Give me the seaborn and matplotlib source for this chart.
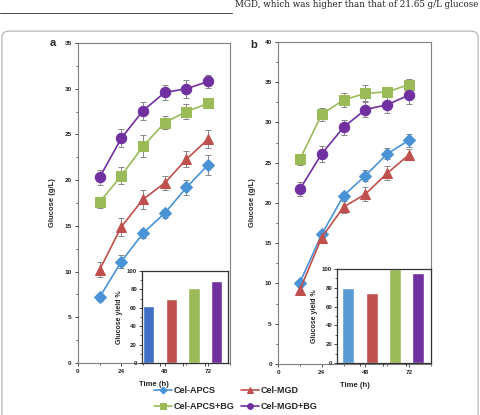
import numpy as np
import pandas as pd
import matplotlib
matplotlib.use("Agg")
import matplotlib.pyplot as plt
import seaborn as sns
from matplotlib.patches import FancyBboxPatch
from matplotlib.lines import Line2D

# thời gian lấy mẫu (h)
time_h = [12, 24, 36, 48, 60, 72]
series = ["Cel-APCS", "Cel-MGD", "Cel-APCS+BG", "Cel-MGD+BG"]

# panel a: glucose (g/L)
a_apcs = [7.2, 11.1, 14.2, 16.4, 19.2, 21.7]
a_mgd = [10.2, 14.9, 17.9, 19.7, 22.3, 24.5]
a_apcs_bg = [17.6, 20.5, 23.7, 26.3, 27.5, 28.4]
a_mgd_bg = [20.3, 24.6, 27.6, 29.6, 30.0, 30.8]
a_err_apcs = [0.4, 0.7, 0.5, 0.5, 0.8, 1.1]
a_err_mgd = [0.8, 1.0, 1.0, 0.8, 0.9, 1.0]
a_err_apcs_bg = [0.6, 0.9, 1.2, 0.7, 0.8, 0.3]
a_err_mgd_bg = [0.8, 1.0, 1.0, 0.8, 1.0, 0.7]
a_yield = [62, 70, 82, 89]

# panel b: glucose (g/L)
b_apcs = [10.1, 16.1, 20.9, 23.4, 26.1, 27.8]
b_mgd = [9.2, 15.7, 19.5, 21.1, 23.7, 26.0]
b_apcs_bg = [25.4, 31.0, 32.8, 33.6, 33.8, 34.7]
b_mgd_bg = [21.7, 26.1, 29.4, 31.6, 32.2, 33.4]
b_err_apcs = [0.3, 0.3, 0.4, 0.7, 0.7, 0.8]
b_err_mgd = [0.4, 0.5, 0.8, 0.9, 0.9, 0.7]
b_err_apcs_bg = [0.7, 0.8, 0.9, 1.0, 0.6, 0.7]
b_err_mgd_bg = [0.9, 1.0, 0.9, 0.9, 1.0, 1.1]
b_yield = [80, 74, 100, 96]

line_colors = ["#4a93d6", "#c0504d", "#9bbb59", "#7030a0"]
markers = ["D", "^", "s", "o"]
bar_colors_a = ["#3f6fc6", "#c0504d", "#9bbb59", "#7030a0"]
bar_colors_b = ["#5b9bd5", "#c0504d", "#9bbb59", "#7030a0"]

sns.set_theme(style="white")
plt.rcParams["font.family"] = ["Liberation Sans", "DejaVu Sans"]
plt.rcParams["font.weight"] = "bold"

fig = plt.figure(figsize=(4.81, 4.15), dpi=100)

# khung trang
fig.patches.append(FancyBboxPatch((0.004, -0.05), 0.99, 0.975, boxstyle="round,pad=0,rounding_size=0.015",
                                  transform=fig.transFigure, fill=False, ec="#b0b0b0", lw=0.8))
fig.add_artist(Line2D([0, 0.482], [0.968, 0.968], color="#444444", lw=0.7))
fig.text(0.994, 0.988, "MGD, which was higher than that of 21.65 g/L glucose", ha="right", va="center",
         fontsize=6.3, family="DejaVu Serif", weight="normal", color="#222222")


def draw_panel(rect, ys, errs, ylim, label, lab_xy):
    ax = fig.add_axes(rect)
    for name, y, e, c, m in zip(series, ys, errs, line_colors, markers):
        df = pd.DataFrame({"t": time_h, "g": y})
        ax.errorbar(time_h, y, yerr=e, fmt="none", ecolor="#888888", elinewidth=0.7, capsize=2, capthick=0.7, zorder=2)
        sns.lineplot(data=df, x="t", y="g", ax=ax, color=c, marker=m, markersize=7.5 if m != "D" else 6.5,
                     markeredgecolor=c, linewidth=1.2, label=name, legend=False, zorder=3)
    ax.set_xlim(0, 84)
    ax.set_ylim(*ylim)
    ax.set_xticks([0, 24, 48, 72])
    ax.set_xticks([12, 36, 60, 84], minor=True)
    ax.set_yticks(np.arange(0, ylim[1] + 1, 5))
    ax.set_yticks(np.arange(2.5, ylim[1], 5), minor=True)
    ax.tick_params(axis="both", which="major", labelsize=4.6, length=2.5, width=0.6, direction="out",
                   bottom=True, left=True, pad=2)
    ax.tick_params(axis="both", which="minor", length=1.5, width=0.5, direction="out", bottom=True, left=True)
    for t in ax.get_xticklabels() + ax.get_yticklabels():
        t.set_fontweight("bold")
    ax.set_xlabel("Time (h)", fontsize=5.5, fontweight="bold", labelpad=5)
    ax.set_ylabel("Glucose (g/L)", fontsize=5.5, fontweight="bold", labelpad=6)
    for s in ax.spines.values():
        s.set_color("#808080")
        s.set_linewidth(0.8)
    fig.text(lab_xy[0], lab_xy[1], label, fontsize=8, fontweight="bold", ha="center", va="center")
    return ax


def draw_inset(rect, vals, colors, xlim):
    ax = fig.add_axes(rect)
    df = pd.DataFrame({"s": series, "v": vals})
    sns.barplot(data=df, x="s", y="v", hue="s", palette=colors, ax=ax, width=0.51, legend=False, saturation=1)
    ax.set_xlim(*xlim)
    ax.set_ylim(0, 100)
    ax.set_yticks(np.arange(0, 101, 20))
    ax.set_yticks(np.arange(10, 100, 20), minor=True)
    ax.set_xticks([0.5, 1.5, 2.5])
    ax.set_xticklabels([])
    ax.set_xlabel("")
    ax.set_ylabel("Glucose yield %", fontsize=5, fontweight="bold", labelpad=3)
    ax.tick_params(axis="y", which="major", labelsize=4.3, length=2, width=0.6, direction="out", left=True, pad=1.5)
    ax.tick_params(axis="y", which="minor", length=1.2, width=0.5, direction="out", left=True)
    ax.tick_params(axis="x", length=2, width=0.6, direction="out", bottom=True)
    for t in ax.get_yticklabels():
        t.set_fontweight("bold")
    for s in ax.spines.values():
        s.set_color("#333333")
        s.set_linewidth(0.9)
    return ax


ax_a = draw_panel([0.162, 0.1253, 0.316, 0.771], [a_apcs, a_mgd, a_apcs_bg, a_mgd_bg],
                  [a_err_apcs, a_err_mgd, a_err_apcs_bg, a_err_mgd_bg], (0, 35), "a", (0.109, 0.896))
ax_b = draw_panel([0.578, 0.123, 0.318, 0.776], [b_apcs, b_mgd, b_apcs_bg, b_mgd_bg],
                  [b_err_apcs, b_err_mgd, b_err_apcs_bg, b_err_mgd_bg], (0, 40), "b", (0.527, 0.892))
draw_inset([0.295, 0.1253, 0.179, 0.2217], a_yield, bar_colors_a, (-0.3, 3.5))
draw_inset([0.7006, 0.1253, 0.195, 0.2265], b_yield, bar_colors_b, (-0.49, 3.55))

handles, labels = ax_a.get_legend_handles_labels()
order = [0, 2, 1, 3]  # hàng 1: APCS, MGD; hàng 2: +BG
leg = fig.legend([handles[i] for i in order], [labels[i] for i in order], loc="center",
                 bbox_to_anchor=(0.49, 0.039), ncol=2, frameon=False,
                 fontsize=6.5, handlelength=2.0, columnspacing=0.7, handletextpad=0.2, labelspacing=0.75,
                 markerscale=0.55)
for t in leg.get_texts():
    t.set_fontweight("bold")

fig.savefig("out.png", dpi=100)
